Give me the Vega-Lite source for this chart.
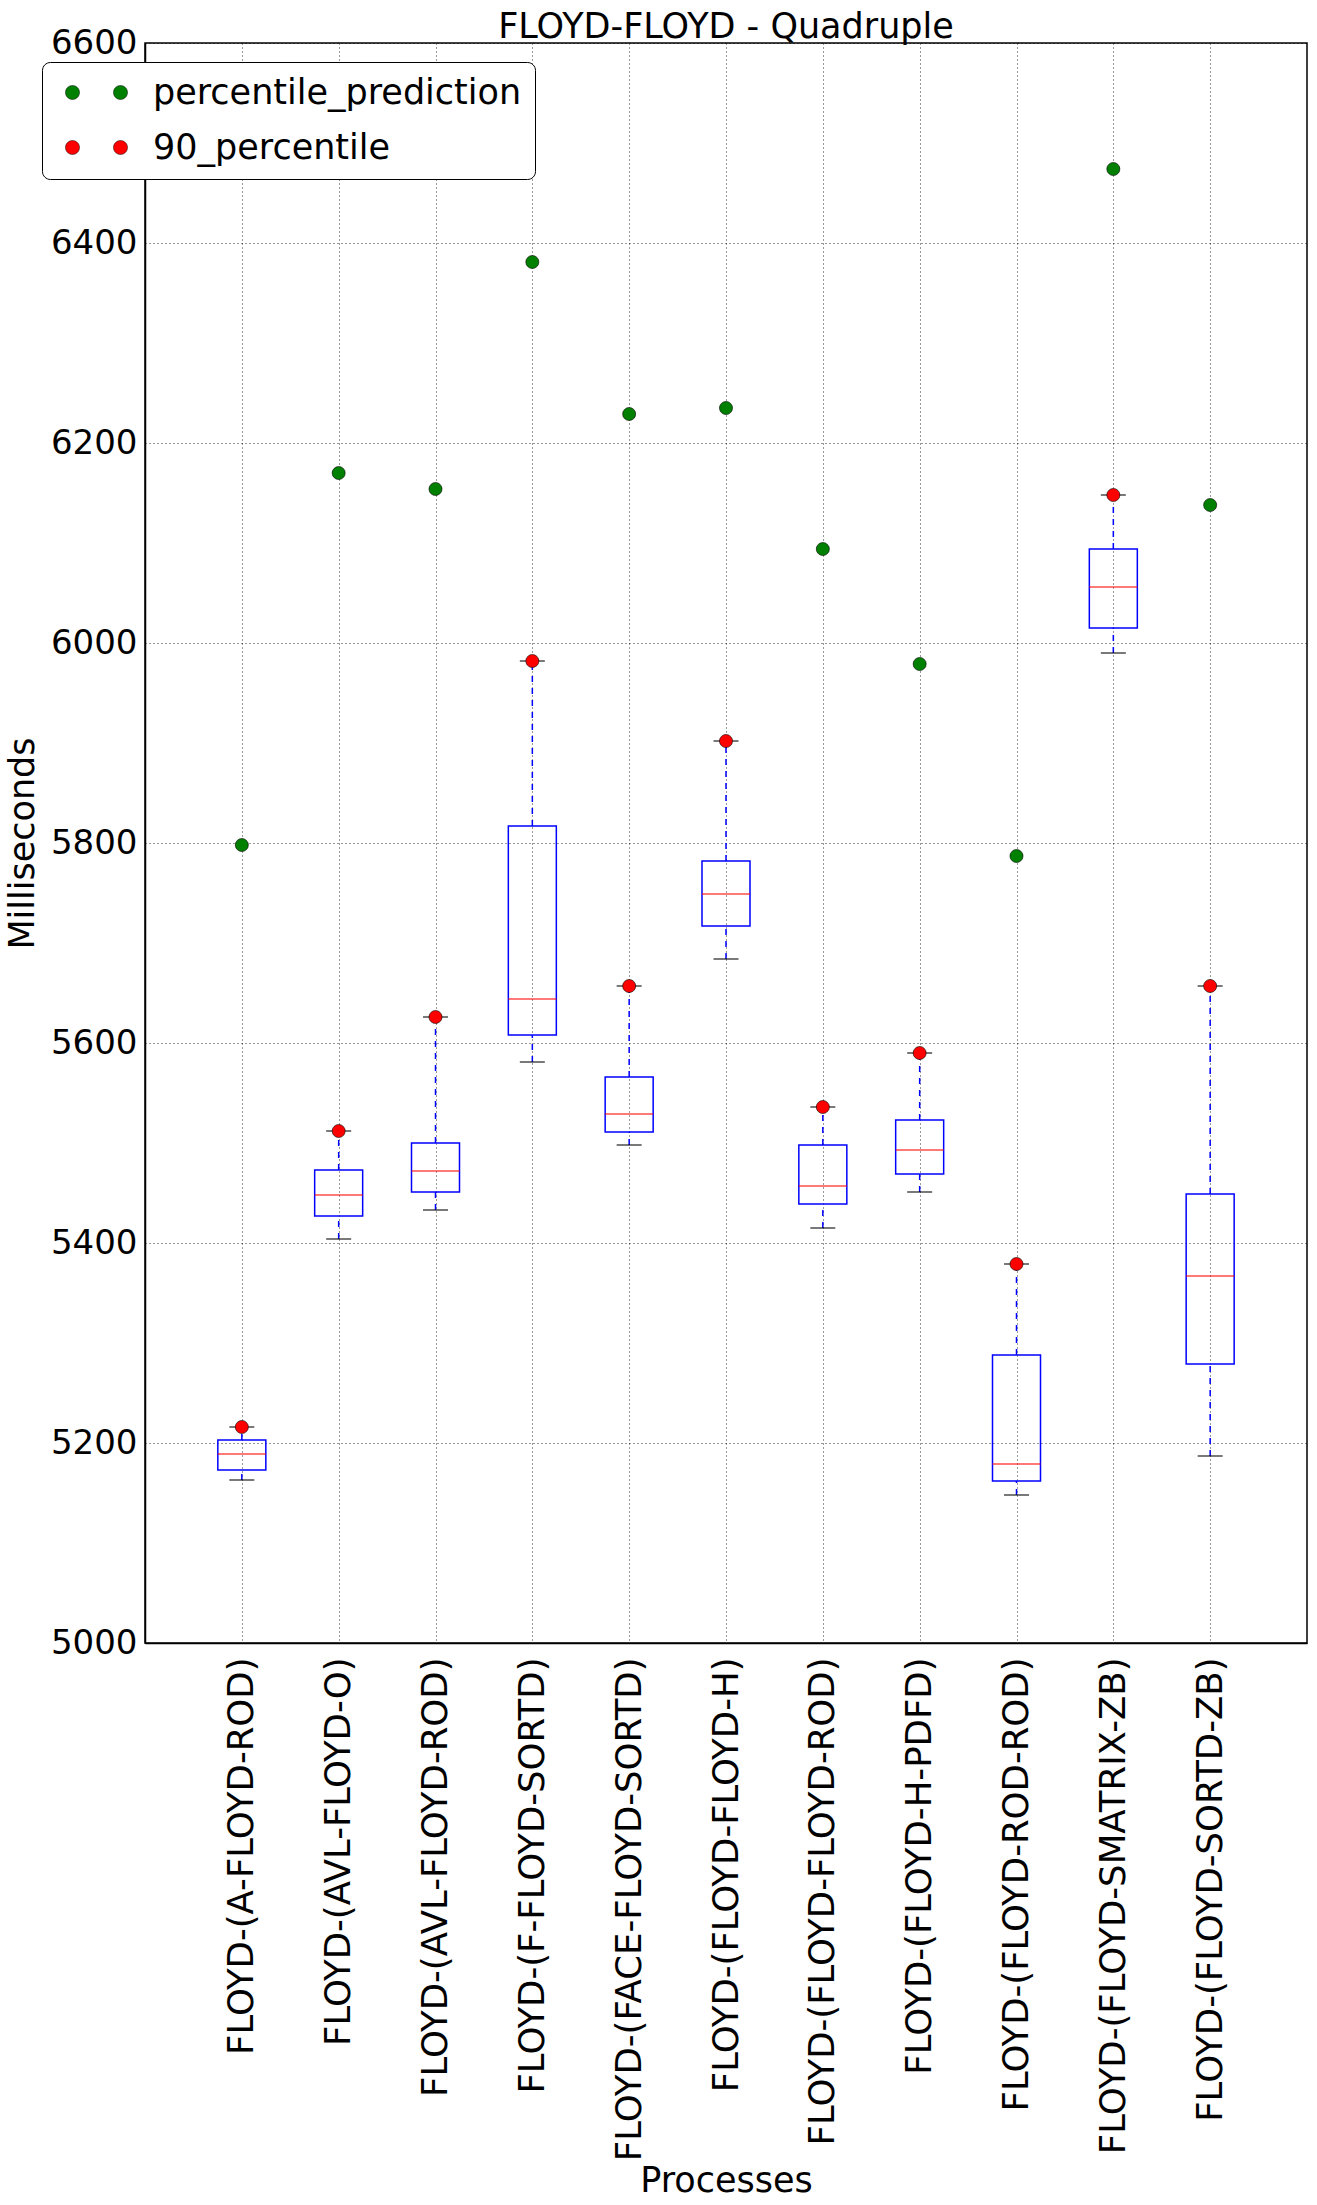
{
  "$schema": "https://vega.github.io/schema/vega-lite/v6.json",
  "autosize": {"type": "none"},
  "padding": {"left": 145, "top": 43, "right": 10, "bottom": 562},
  "width": 1162,
  "height": 1600,
  "background": "white",
  "title": {"text": "FLOYD-FLOYD - Quadruple", "fontSize": 35, "font": "DejaVu Sans", "fontWeight": "normal", "color": "black", "offset": -19, "frame": "group"},
  "data": {
    "values": [
      {"process": "FLOYD-(A-FLOYD-ROD)", "lower": 5163, "q1": 5173, "median": 5189, "q3": 5203, "upper": 5216, "p90": 5216, "prediction": 5798},
      {"process": "FLOYD-(AVL-FLOYD-O)", "lower": 5404, "q1": 5427, "median": 5448, "q3": 5473, "upper": 5512, "p90": 5512, "prediction": 6170},
      {"process": "FLOYD-(AVL-FLOYD-ROD)", "lower": 5433, "q1": 5451, "median": 5472, "q3": 5500, "upper": 5626, "p90": 5626, "prediction": 6154},
      {"process": "FLOYD-(F-FLOYD-SORTD)", "lower": 5581, "q1": 5608, "median": 5644, "q3": 5817, "upper": 5982, "p90": 5982, "prediction": 6381},
      {"process": "FLOYD-(FACE-FLOYD-SORTD)", "lower": 5498, "q1": 5511, "median": 5529, "q3": 5566, "upper": 5657, "p90": 5657, "prediction": 6229},
      {"process": "FLOYD-(FLOYD-FLOYD-H)", "lower": 5684, "q1": 5717, "median": 5749, "q3": 5782, "upper": 5902, "p90": 5902, "prediction": 6235},
      {"process": "FLOYD-(FLOYD-FLOYD-ROD)", "lower": 5415, "q1": 5439, "median": 5457, "q3": 5498, "upper": 5536, "p90": 5536, "prediction": 6094},
      {"process": "FLOYD-(FLOYD-H-PDFD)", "lower": 5451, "q1": 5469, "median": 5493, "q3": 5523, "upper": 5590, "p90": 5590, "prediction": 5979},
      {"process": "FLOYD-(FLOYD-ROD-ROD)", "lower": 5148, "q1": 5162, "median": 5179, "q3": 5288, "upper": 5379, "p90": 5379, "prediction": 5787},
      {"process": "FLOYD-(FLOYD-SMATRIX-ZB)", "lower": 5990, "q1": 6015, "median": 6056, "q3": 6094, "upper": 6148, "p90": 6148, "prediction": 6474},
      {"process": "FLOYD-(FLOYD-SORTD-ZB)", "lower": 5187, "q1": 5279, "median": 5367, "q3": 5449, "upper": 5657, "p90": 5657, "prediction": 6138}
    ]
  },
  "encoding": {
    "x": {
      "field": "process", "type": "nominal", "sort": null,
      "scale": {"type": "point", "padding": 1},
      "axis": {"title": "Processes", "labelAngle": 270, "labelPadding": 14, "labelLimit": 800, "labelFontSize": 35.5, "ticks": false, "titleY": 548, "titleBaseline": "alphabetic"}
    }
  },
  "layer": [
    {
      "mark": {"type": "rule", "color": "blue", "strokeDash": [6, 6], "strokeWidth": 1.5},
      "encoding": {
        "y": {"field": "lower", "type": "quantitative", "scale": {"domain": [5000, 6600], "nice": false, "zero": false},
          "axis": {"title": "Milliseconds", "values": [5000, 5200, 5400, 5600, 5800, 6000, 6200, 6400, 6600], "format": "d", "ticks": false, "labelPadding": 8, "labelFontSize": 34, "titlePadding": 10}},
        "y2": {"field": "q1"}
      }
    },
    {
      "mark": {"type": "rule", "color": "blue", "strokeDash": [6, 6], "strokeWidth": 1.5},
      "encoding": {
        "y": {"field": "q3", "type": "quantitative"},
        "y2": {"field": "upper"}
      }
    },
    {
      "mark": {"type": "bar", "filled": false, "stroke": "blue", "strokeWidth": 1.5, "size": 48},
      "encoding": {
        "y": {"field": "q1", "type": "quantitative"},
        "y2": {"field": "q3"}
      }
    },
    {
      "mark": {"type": "tick", "color": "red", "size": 48, "thickness": 1.5},
      "encoding": {"y": {"field": "median", "type": "quantitative"}}
    },
    {
      "mark": {"type": "tick", "color": "black", "size": 25, "thickness": 1.5},
      "encoding": {"y": {"field": "lower", "type": "quantitative"}}
    },
    {
      "mark": {"type": "tick", "color": "black", "size": 25, "thickness": 1.5},
      "encoding": {"y": {"field": "upper", "type": "quantitative"}}
    },
    {
      "mark": {"type": "point", "filled": true, "size": 170, "stroke": "black", "strokeWidth": 0.6, "opacity": 1},
      "encoding": {
        "y": {"field": "prediction", "type": "quantitative"},
        "color": {"datum": "percentile_prediction", "type": "nominal"}
      }
    },
    {
      "mark": {"type": "point", "filled": true, "size": 170, "stroke": "black", "strokeWidth": 0.6, "opacity": 1},
      "encoding": {
        "y": {"field": "p90", "type": "quantitative"},
        "color": {"datum": "90_percentile", "type": "nominal",
          "scale": {"domain": ["percentile_prediction", "90_percentile"], "range": ["#008000", "#ff0000"]},
          "legend": {
            "title": null, "orient": "none", "legendX": -103, "legendY": 19,
            "fillColor": "white", "strokeColor": "black", "cornerRadius": 8, "padding": 13,
            "symbolType": "M-0.583,0A0.583,0.583,0,1,0,0.583,0A0.583,0.583,0,1,0,-0.583,0Z M3.417,0A0.583,0.583,0,1,0,4.583,0A0.583,0.583,0,1,0,3.417,0Z",
            "symbolSize": 576, "symbolStrokeColor": "black", "symbolStrokeWidth": 0.5, "symbolOpacity": 1,
            "labelFontSize": 35, "labelFont": "DejaVu Sans", "labelColor": "black", "labelOffset": 63, "labelLimit": 800,
            "rowPadding": 19, "zindex": 2
          }
        }
      }
    }
  ],
  "config": {
    "view": {"stroke": "black", "strokeWidth": 1.5},
    "axis": {
      "labelFont": "DejaVu Sans", "labelColor": "black",
      "titleFont": "DejaVu Sans", "titleFontSize": 35, "titleFontWeight": "normal", "titleColor": "black",
      "domainColor": "black", "domainWidth": 1.5,
      "grid": true, "gridColor": "black", "gridOpacity": 0.8, "gridDash": [1, 3], "gridWidth": 1,
      "zindex": 1
    }
  }
}
